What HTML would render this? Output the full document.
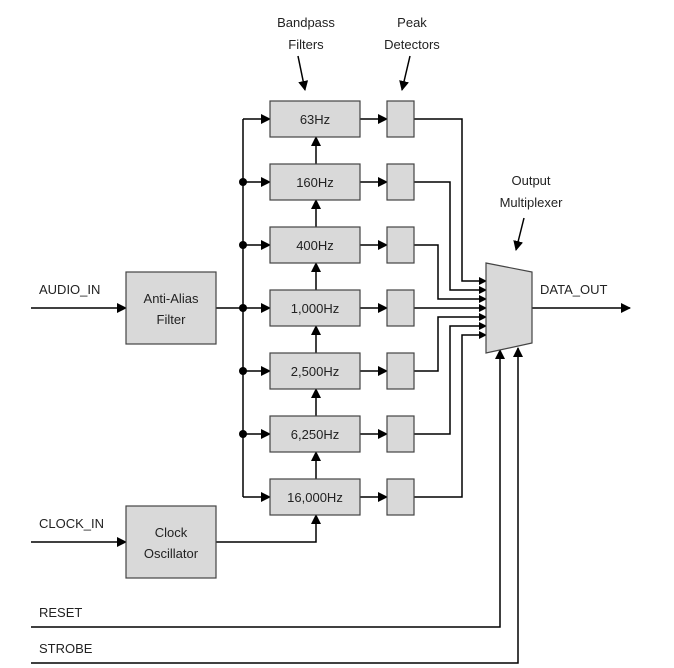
<!DOCTYPE html>
<html><head><style>body{margin:0;background:#fff}svg{display:block}text{font-family:"Liberation Sans",sans-serif;font-size:13px;fill:#222}</style></head><body>
<svg width="674" height="668" viewBox="0 0 674 668" xmlns="http://www.w3.org/2000/svg">
<defs><marker id="a" markerWidth="10" markerHeight="10" refX="9" refY="5" orient="auto" markerUnits="userSpaceOnUse"><path d="M0,0 L10,5 L0,10 z" fill="#000"/></marker>
<marker id="s" markerWidth="8" markerHeight="8" refX="7" refY="4" orient="auto" markerUnits="userSpaceOnUse"><path d="M0,0 L8,4 L0,8 z" fill="#000"/></marker></defs>
<g stroke="#000" stroke-width="1.5" fill="none">
<line x1="31" y1="308" x2="126" y2="308" marker-end="url(#a)"/>
<line x1="31" y1="542" x2="126" y2="542" marker-end="url(#a)"/>
<line x1="216" y1="308" x2="243" y2="308"/>
<polyline points="216,542 316,542 316,515" marker-end="url(#a)"/>
<line x1="243" y1="119" x2="243" y2="497"/>
<g marker-end="url(#a)">
<line x1="243" y1="119" x2="270" y2="119"/><line x1="243" y1="182" x2="270" y2="182"/><line x1="243" y1="245" x2="270" y2="245"/><line x1="243" y1="308" x2="270" y2="308"/><line x1="243" y1="371" x2="270" y2="371"/><line x1="243" y1="434" x2="270" y2="434"/><line x1="243" y1="497" x2="270" y2="497"/>
<line x1="360" y1="119" x2="387" y2="119"/><line x1="360" y1="182" x2="387" y2="182"/><line x1="360" y1="245" x2="387" y2="245"/><line x1="360" y1="308" x2="387" y2="308"/><line x1="360" y1="371" x2="387" y2="371"/><line x1="360" y1="434" x2="387" y2="434"/><line x1="360" y1="497" x2="387" y2="497"/>
<line x1="316" y1="164" x2="316" y2="137"/><line x1="316" y1="227" x2="316" y2="200"/><line x1="316" y1="290" x2="316" y2="263"/><line x1="316" y1="353" x2="316" y2="326"/><line x1="316" y1="416" x2="316" y2="389"/><line x1="316" y1="479" x2="316" y2="452"/>
<line x1="532" y1="308" x2="630" y2="308"/>
<polyline points="31,627 500,627 500,350"/>
<polyline points="31,663 518,663 518,348"/>
<line x1="298" y1="56" x2="305" y2="90"/><line x1="410" y1="56" x2="402" y2="90"/><line x1="524" y1="218" x2="516" y2="250"/>
</g>
<g marker-end="url(#s)">
<polyline points="414,119 462,119 462,281 486,281"/>
<polyline points="414,182 450,182 450,290 486,290"/>
<polyline points="414,245 438,245 438,299 486,299"/>
<polyline points="414,308 486,308"/>
<polyline points="414,371 438,371 438,317 486,317"/>
<polyline points="414,434 450,434 450,326 486,326"/>
<polyline points="414,497 462,497 462,335 486,335"/>
</g>
</g>
<g fill="#000"><circle cx="243" cy="182" r="4"/><circle cx="243" cy="245" r="4"/><circle cx="243" cy="308" r="4"/><circle cx="243" cy="371" r="4"/><circle cx="243" cy="434" r="4"/></g>
<g fill="#d9d9d9" stroke="#444" stroke-width="1.2">
<rect x="126" y="272" width="90" height="72"/><rect x="126" y="506" width="90" height="72"/>
<rect x="270" y="101" width="90" height="36"/><rect x="270" y="164" width="90" height="36"/><rect x="270" y="227" width="90" height="36"/><rect x="270" y="290" width="90" height="36"/><rect x="270" y="353" width="90" height="36"/><rect x="270" y="416" width="90" height="36"/><rect x="270" y="479" width="90" height="36"/>
<rect x="387" y="101" width="27" height="36"/><rect x="387" y="164" width="27" height="36"/><rect x="387" y="227" width="27" height="36"/><rect x="387" y="290" width="27" height="36"/><rect x="387" y="353" width="27" height="36"/><rect x="387" y="416" width="27" height="36"/><rect x="387" y="479" width="27" height="36"/>
<polygon points="486,263 532,272 532,343 486,353"/>
</g>
<g text-anchor="middle">
<text x="171" y="303">Anti-Alias</text><text x="171" y="324">Filter</text>
<text x="171" y="537">Clock</text><text x="171" y="558">Oscillator</text>
<text x="315" y="124">63Hz</text><text x="315" y="187">160Hz</text><text x="315" y="250">400Hz</text><text x="315" y="313">1,000Hz</text><text x="315" y="376">2,500Hz</text><text x="315" y="439">6,250Hz</text><text x="315" y="502">16,000Hz</text>
<text x="306" y="27">Bandpass</text><text x="306" y="49">Filters</text>
<text x="412" y="27">Peak</text><text x="412" y="49">Detectors</text>
<text x="531" y="185">Output</text><text x="531" y="207">Multiplexer</text>
</g>
<text x="39" y="294">AUDIO_IN</text><text x="39" y="528">CLOCK_IN</text><text x="39" y="617">RESET</text><text x="39" y="653">STROBE</text><text x="540" y="294">DATA_OUT</text>
</svg>
</body></html>
